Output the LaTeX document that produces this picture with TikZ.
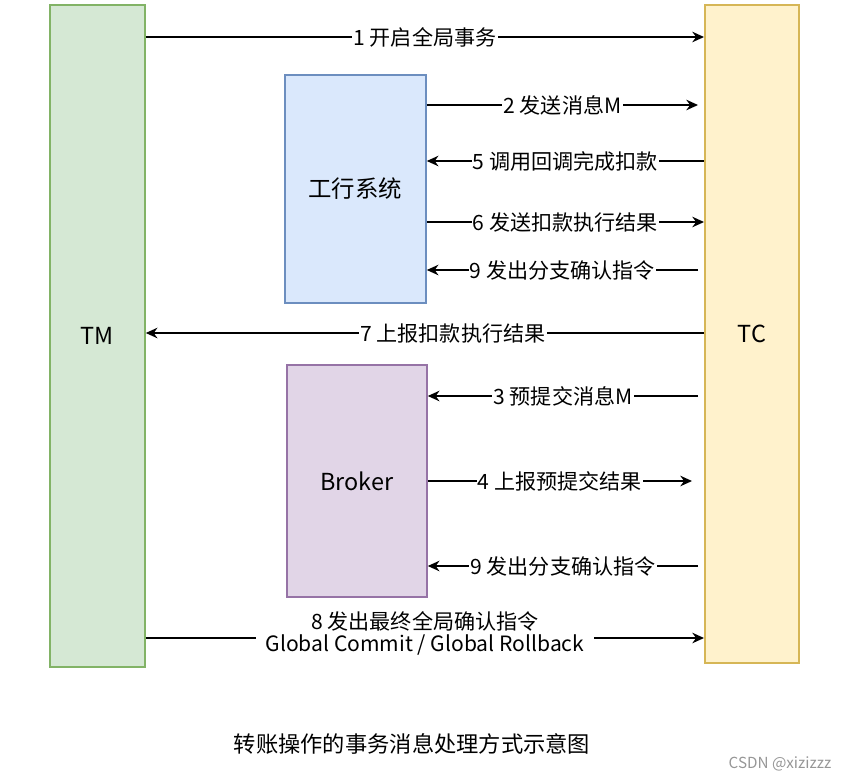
\documentclass[tikz,border=0pt]{standalone}
\usepackage{fontspec}
\setmainfont{Noto Sans CJK SC}
\usetikzlibrary{arrows.meta,positioning,calc}

\tikzset{
  lane/.style={draw, line width=1.5pt, minimum width=2.85cm, anchor=north west},
  msg/.style={line width=1.3pt, -{Stealth[length=10pt,width=9pt]}},
  lbl/.style={fill=white, inner sep=1pt, font=\fontsize{18}{19}\selectfont}
}

\begin{document}
\begin{tikzpicture}[x=0.03cm, y=-0.03cm]
    \useasboundingbox (0,0) rectangle (853,781);
    % Participants
    \node[lane, fill={rgb,255:red,213;green,232;blue,212}, draw={rgb,255:red,130;green,179;blue,102},
      minimum height=19.86cm] (tm) at (49,4) {};
    \node[font=\fontsize{20}{22}\selectfont] at (tm.center) {TM};
    \node[lane, fill={rgb,255:red,255;green,242;blue,204}, draw={rgb,255:red,214;green,182;blue,86},
      minimum width=2.82cm, minimum height=19.74cm] (tc) at (704,4) {};
    \node[font=\fontsize{20}{22}\selectfont] at (tc.center) {TC};
    \node[lane, fill={rgb,255:red,218;green,232;blue,252}, draw={rgb,255:red,108;green,142;blue,191},
      minimum width=4.23cm, minimum height=6.84cm] (bank) at (284,74) {};
    \node[font=\fontsize{20}{22}\selectfont] at (bank.center) {工行系统};
    \node[lane, fill={rgb,255:red,225;green,213;blue,231}, draw={rgb,255:red,150;green,115;blue,166},
      minimum width=4.2cm, minimum height=6.96cm] (broker) at (286,364) {};
    \node[font=\fontsize{20}{22}\selectfont] at (broker.center) {Broker};

    % Messages
    \draw[msg] (tm.east |- 0,37) -- node[lbl] {1 开启全局事务} (tc.west |- 0,37);
    \draw[msg] (bank.east |- 0,105) -- node[lbl] {2 发送消息M} (698,105);
    \draw[msg] (tc.west |- 0,161) -- node[lbl] {5 调用回调完成扣款} (bank.east |- 0,161);
    \draw[msg] (bank.east |- 0,222) -- node[lbl] {6 发送扣款执行结果} (tc.west |- 0,222);
    \draw[msg] (698,270) -- node[lbl] {9 发出分支确认指令} (bank.east |- 0,270);
    \draw[msg] (tc.west |- 0,333) -- node[lbl, pos=0.45] {7 上报扣款执行结果} (tm.east |- 0,333);
    \draw[msg] (698,396) -- node[lbl] {3 预提交消息M} (broker.east |- 0,396);
    \draw[msg] (broker.east |- 0,481) -- node[lbl] {4 上报预提交结果} (692,481);
    \draw[msg] (698,566) -- node[lbl] {9 发出分支确认指令} (broker.east |- 0,566);
    \draw[msg] (tm.east |- 0,638) -- node[lbl, align=center, inner xsep=8pt, yshift=4pt] {8 发出最终全局确认指令\\Global Commit / Global Rollback} (tc.west |- 0,638);

    % Caption
    \node[font=\fontsize{19}{22}\selectfont] (cap) at (412,744) {转账操作的事务消息处理方式示意图};
    \node[font=\fontsize{13}{15}\selectfont, text={rgb,255:red,150;green,150;blue,150}] (mark) at (780,764) {CSDN @xizizzz};
\end{tikzpicture}
\end{document}
